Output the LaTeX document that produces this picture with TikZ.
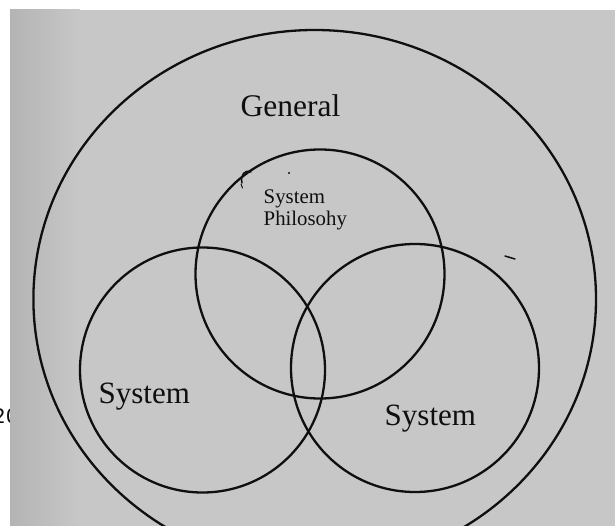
\documentclass[tikz,border=0pt]{standalone}
\usepackage{fontspec}
\setmainfont{Liberation Serif}
\newfontfamily\pagefont{DejaVu Sans}
\usetikzlibrary{shapes.geometric}
\definecolor{paper}{RGB}{199,199,199}
\definecolor{paperdark}{RGB}{180,180,180}
\definecolor{ink}{RGB}{15,15,15}
\tikzset{
  ring/.style={draw=ink, line width=2.3pt, circle, inner sep=0pt},
  bigtext/.style={inner sep=0pt, anchor=base west, text=ink, font=\fontsize{31}{36}\selectfont},
  smalltext/.style={inner sep=0pt, anchor=base west, text=ink, font=\fontsize{20.8}{24}\selectfont},
  scanmark/.style={draw=ink, line width=1.5pt, line cap=round}
}
\begin{document}
\begin{tikzpicture}[x=1pt,y=-1pt]
\useasboundingbox (0,0) rectangle (615,526);
\fill[white] (0,0) rectangle (615,526);
% cut-off page text at the left edge
\node[inner sep=0pt, anchor=base west, font=\pagefont\fontsize{20}{24}\selectfont, text=ink] (pagenum) at (-7,423) {20};
% scanned paper
\fill[paper] (10,10) rectangle (615,526);
\shade[left color=paperdark, right color=paper] (10,10) rectangle (80,526);
% circles
\node[draw=ink, line width=2.3pt, ellipse, inner sep=0pt, minimum width=562.6pt, minimum height=538pt] (general) at (314.7,299) {};
\node[ring, minimum size=249pt] (phil) at (320,274) {};
\node[ring, minimum size=245pt] (leftsys) at (202.5,370) {};
\node[ring, minimum size=248pt] (rightsys) at (415,368) {};
% labels
\node[bigtext, font=\fontsize{31.5}{36}\selectfont] (lgeneral) at (240.5,117) {General};
\node[smalltext] (lphil1) at (263.5,204) {System};
\node[smalltext] (lphil2) at (263.5,226) {Philosohy};
\node[bigtext] (lleft) at (98.5,403.5) {System};
\node[bigtext] (lright) at (384.5,425) {System};
% stray scan marks
\draw[scanmark] (242,183) .. controls (240,175) and (245,169) .. (251,172);
\draw[scanmark, line width=1pt] (241,184) -- (242.5,188);
\fill[ink] (289,173) circle[radius=1.2];
\draw[scanmark] (505,256) -- (515,259);
\end{tikzpicture}
\end{document}
